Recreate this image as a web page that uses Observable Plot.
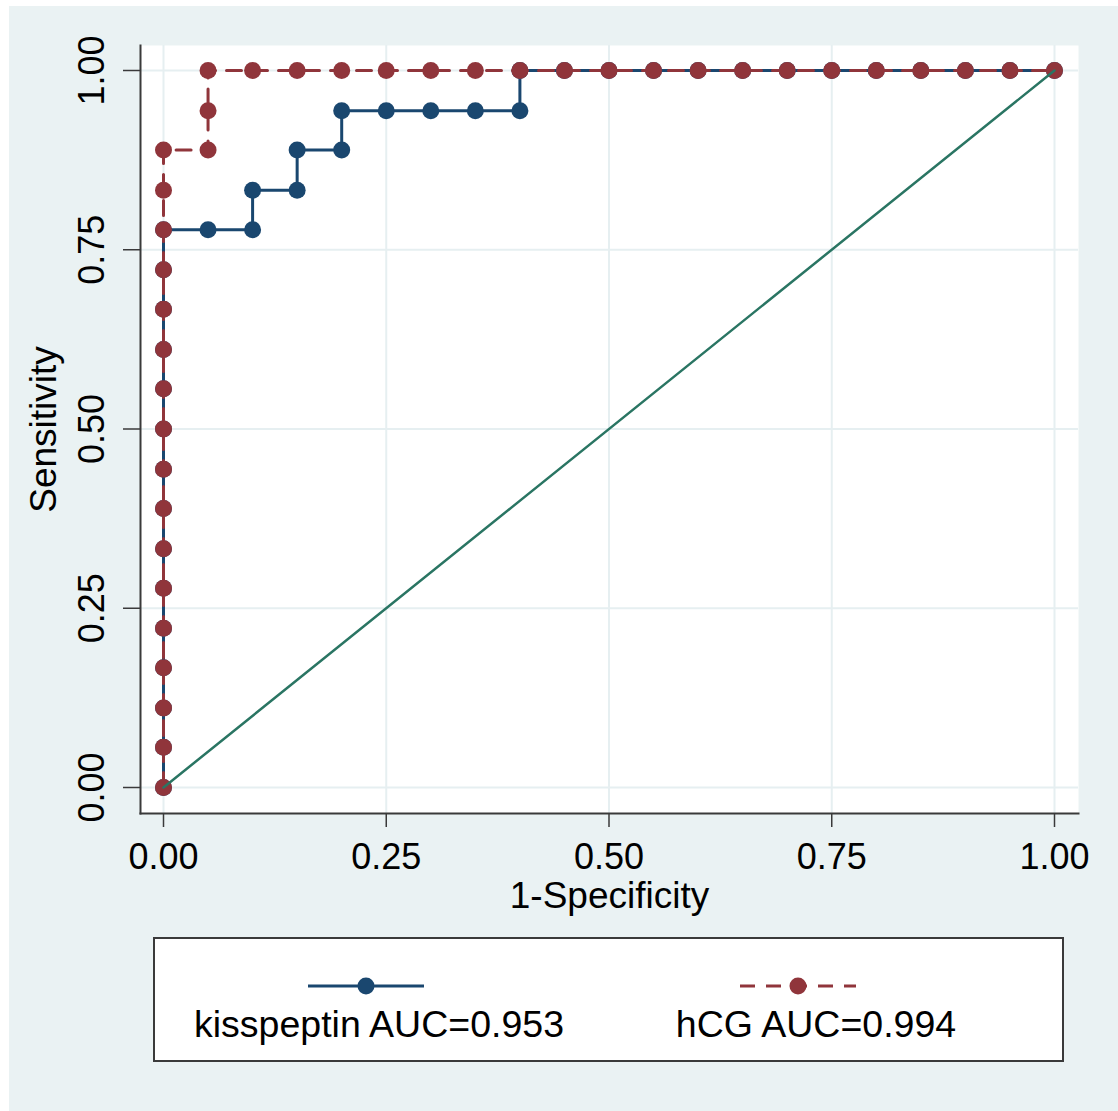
<!DOCTYPE html>
<html>
<head>
<meta charset="utf-8">
<script src="https://cdn.jsdelivr.net/npm/d3@7"></script>
<script src="https://cdn.jsdelivr.net/npm/@observablehq/plot@0.6"></script>
<style>
  html, body { margin: 0; padding: 0; background: #ffffff; }
  body { width: 1118px; height: 1111px; position: relative; overflow: hidden;
         font-family: "Liberation Sans", Arial, sans-serif; }
  #bg { position: absolute; left: 9px; top: 6px; width: 1109px; height: 1105px; background: #eaf2f3; }
  #chart { position: absolute; left: 0; top: 0; }
  #legend { position: absolute; left: 153px; top: 937px; width: 907px; height: 121px;
            background: #ffffff; border: 2px solid #3a3a3a; }
</style>
</head>
<body>
<div id="bg"></div>
<div id="chart"></div>
<div id="legend"></div>
<script>
// ---- data ----
const kissX = [0,0,0,0,0,0,0,0,0,0,0,0,0,0,0,
               0.05,0.10,0.10,0.15,0.15,0.20,0.20,0.25,0.30,0.35,0.40,0.40,
               0.45,0.50,0.55,0.60,0.65,0.70,0.75,0.80,0.85,0.90,0.95,1.00];
const kissY = [0,0.056,0.111,0.167,0.222,0.278,0.333,0.389,0.444,0.500,0.556,0.611,0.667,0.722,0.778,
               0.778,0.778,0.833,0.833,0.889,0.889,0.944,0.944,0.944,0.944,0.944,1.000,
               1,1,1,1,1,1,1,1,1,1,1,1];
const hcgX = [0,0,0,0,0,0,0,0,0,0,0,0,0,0,0,0,0,
              0.05,0.05,0.05,
              0.10,0.15,0.20,0.25,0.30,0.35,0.40,0.45,0.50,0.55,0.60,0.65,0.70,0.75,0.80,0.85,0.90,0.95,1.00];
const hcgY = [0,0.056,0.111,0.167,0.222,0.278,0.333,0.389,0.444,0.500,0.556,0.611,0.667,0.722,0.778,0.833,0.889,
              0.889,0.944,1.000,
              1,1,1,1,1,1,1,1,1,1,1,1,1,1,1,1,1,1,1];
const refX = [0, 1];
const refY = [0, 1];
const tickValues = [0, 0.25, 0.5, 0.75, 1];
const tickLabels = ["0.00", "0.25", "0.50", "0.75", "1.00"];
const xTitle = "1-Specificity";
const yTitle = "Sensitivity";
const seriesNames = ["kisspeptin AUC=0.953", "hCG AUC=0.994"];

// ---- tables built from the arrays ----
const kiss = kissX.map((x, i) => ({x, y: kissY[i]}));
const hcg = hcgX.map((x, i) => ({x, y: hcgY[i]}));
const ref = refX.map((x, i) => ({x, y: refY[i]}));

const NAVY = "#1a476f", MAROON = "#90353b", GREEN = "#2a7563", GRID = "#e6eff1", AXIS = "#3a3a3a";
const FONT = 36, TITLE_FONT = 37, LEGEND_FONT = 37.5;

const chart = Plot.plot({
  width: 1118,
  height: 925,
  marginLeft: 140,
  marginRight: 40,
  marginTop: 45,
  marginBottom: 112,
  x: {domain: [0, 1], range: [163, 1054]},
  y: {domain: [0, 1], range: [787, 70]},
  style: {background: "transparent", fontFamily: "'Liberation Sans', Arial, sans-serif", color: "#000"},
  marks: [
    Plot.frame({fill: "#ffffff", stroke: null}),
    Plot.gridX(tickValues, {stroke: GRID, strokeOpacity: 1, strokeWidth: 2}),
    Plot.gridY(tickValues, {stroke: GRID, strokeOpacity: 1, strokeWidth: 2}),
    Plot.axisX(tickValues, {tickSize: 14, tickFormat: () => "", stroke: AXIS, strokeWidth: 1.5, label: null}),
    Plot.axisY(tickValues, {tickSize: 17, tickFormat: () => "", stroke: AXIS, strokeWidth: 1.5, label: null}),
    Plot.frame({anchor: "left", stroke: AXIS, strokeWidth: 2}),
    Plot.frame({anchor: "bottom", stroke: AXIS, strokeWidth: 2}),
    Plot.text(tickValues, {x: d => d, text: (d, i) => tickLabels[i], frameAnchor: "bottom", dy: 44,
      lineAnchor: "middle", textAnchor: "middle", fontSize: FONT, fill: "#000"}),
    Plot.text(tickValues, {y: d => d, text: (d, i) => tickLabels[i], frameAnchor: "left", dx: -48,
      rotate: -90, lineAnchor: "middle", textAnchor: "middle", fontSize: FONT, fill: "#000"}),
    Plot.text([xTitle], {text: d => d, frameAnchor: "bottom", dy: 83, lineAnchor: "middle", textAnchor: "middle",
      fontSize: TITLE_FONT, fill: "#000"}),
    Plot.text([yTitle], {text: d => d, frameAnchor: "left", dx: -96, rotate: -90, lineAnchor: "middle",
      textAnchor: "middle", fontSize: TITLE_FONT, fill: "#000"}),
    Plot.line(kiss, {x: "x", y: "y", stroke: NAVY, strokeWidth: 3}),
    Plot.dot(kiss, {x: "x", y: "y", r: 8.5, fill: NAVY, stroke: null}),
    Plot.line(hcg, {x: "x", y: "y", stroke: MAROON, strokeWidth: 3, strokeDasharray: "15,11"}),
    Plot.dot(hcg, {x: "x", y: "y", r: 8.5, fill: MAROON, stroke: null}),
    Plot.line(ref, {x: "x", y: "y", stroke: GREEN, strokeWidth: 2.5})
  ]
});
document.getElementById("chart").appendChild(chart);

// ---- legend (below the SVG) ----
const leg = d3.select("#legend").append("svg").attr("width", 907).attr("height", 121)
  .style("font-family", "'Liberation Sans', Arial, sans-serif");
const items = [
  {name: seriesNames[0], color: NAVY, dash: null, cx: 211, tx: 224},
  {name: seriesNames[1], color: MAROON, dash: "15,11", cx: 643, tx: 661}
];
items.forEach(it => {
  leg.append("line").attr("x1", it.cx - 58).attr("x2", it.cx + 58).attr("y1", 47).attr("y2", 47)
    .attr("stroke", it.color).attr("stroke-width", 3).attr("stroke-dasharray", it.dash);
  leg.append("circle").attr("cx", it.cx).attr("cy", 47).attr("r", 8.5).attr("fill", it.color);
  leg.append("text").attr("x", it.tx).attr("y", 98).attr("text-anchor", "middle")
    .attr("font-size", LEGEND_FONT).attr("fill", "#000").text(it.name);
});
</script>
</body>
</html>
